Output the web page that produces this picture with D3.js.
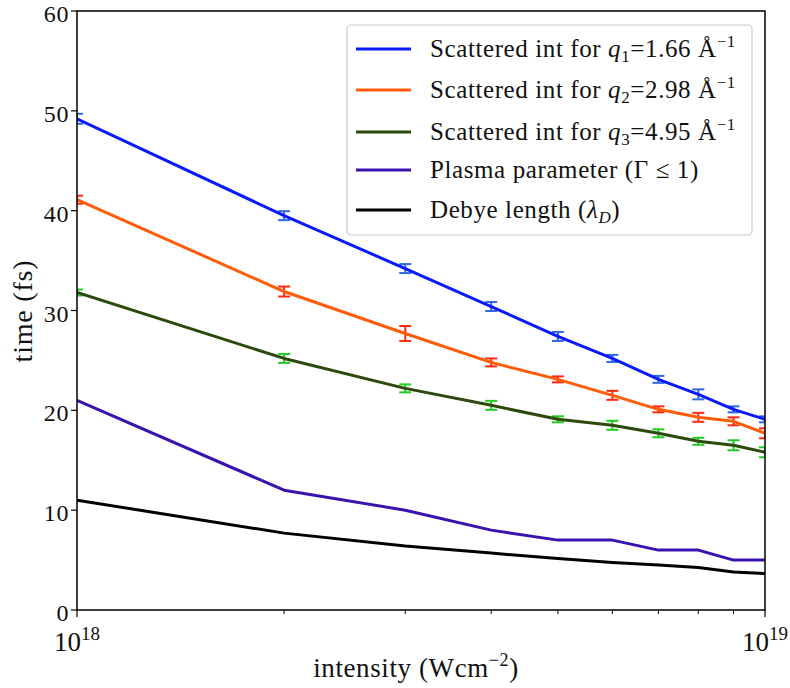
<!DOCTYPE html>
<html><head><meta charset="utf-8">
<script src="https://cdn.jsdelivr.net/npm/d3@7"></script>
<style>body{margin:0;background:#fff}svg text{font-family:"Liberation Serif","DejaVu Serif",serif;fill:#111}</style>
</head><body><svg id="c" width="790" height="688"></svg>
<script>
const intensity = [1e18,2e18,3e18,4e18,5e18,6e18,7e18,8e18,9e18,1e19];
const q1 = [49.2,39.5,34.2,30.4,27.4,25.2,23.1,21.6,20.1,19.1];
const q1Err = [0.5,0.45,0.45,0.45,0.45,0.35,0.35,0.5,0.3,0.3];
const q2 = [41.1,31.9,27.7,24.8,23.1,21.5,20.1,19.3,18.9,17.7];
const q2Err = [0.4,0.5,0.75,0.4,0.3,0.45,0.3,0.45,0.4,0.5];
const q3 = [31.8,25.2,22.2,20.5,19.1,18.5,17.7,16.9,16.5,15.8];
const q3Err = [0.3,0.45,0.4,0.45,0.3,0.45,0.4,0.35,0.5,0.5];
const plasma = [21,12,10,8,7,7,6,6,5,5];
const debye = [11.0,7.7,6.4,5.7,5.15,4.75,4.5,4.25,3.8,3.65];
const yTicks = [0,10,20,30,40,50,60];

const svg = d3.select("#c");
const L=77,R=765,T=11,B=610;
const x = d3.scaleLog().domain([1e18,1e19]).range([L,R]);
const y = d3.scaleLinear().domain([0,60]).range([B,T]);

svg.append("clipPath").attr("id","clip").append("rect").attr("x",L).attr("y",T).attr("width",R-L).attr("height",B-T);
const g = svg.append("g").attr("clip-path","url(#clip)");

const series = [
 {v:q1,e:q1Err,c:"#0a1aff",ec:"#2f6ae6"},
 {v:q2,e:q2Err,c:"#ff5c0a",ec:"#ff2a14"},
 {v:q3,e:q3Err,c:"#2c4a0c",ec:"#22cc22"},
 {v:plasma,c:"#3a12b0"},
 {v:debye,c:"#000000"}
];
const line = d3.line().x((d,i)=>x(intensity[i])).y(d=>y(d));
series.forEach(s=>{
  if(!s.e) return;
  s.v.forEach((v,i)=>{
    const cx=x(intensity[i]), y1=y(v+s.e[i]), y2=y(v-s.e[i]);
    g.append("line").attr("x1",cx).attr("x2",cx).attr("y1",y1).attr("y2",y2).attr("stroke",s.ec).attr("stroke-width",2);
    [y1,y2].forEach(yy=>g.append("line").attr("x1",cx-6).attr("x2",cx+6).attr("y1",yy).attr("y2",yy).attr("stroke",s.ec).attr("stroke-width",2));
  });
});
series.forEach(s=>{
  g.append("path").attr("d",line(s.v)).attr("fill","none").attr("stroke",s.c).attr("stroke-width",3).attr("stroke-linejoin","round");
});

svg.append("rect").attr("x",L).attr("y",T).attr("width",R-L).attr("height",B-T).attr("fill","none").attr("stroke","#000").attr("stroke-width",1.5);

yTicks.forEach(t=>{
  svg.append("line").attr("x1",L-6).attr("x2",L).attr("y1",y(t)).attr("y2",y(t)).attr("stroke","#000").attr("stroke-width",1.2);
  svg.append("text").attr("x",L-8).attr("y",y(t)+11).attr("text-anchor","end").attr("font-size",24).attr("letter-spacing",0.6).text(t);
});
const minor = [2,3,4,5,6,7,8,9].map(k=>k*1e18);
minor.forEach(t=>svg.append("line").attr("x1",x(t)).attr("x2",x(t)).attr("y1",B).attr("y2",B+4).attr("stroke","#000").attr("stroke-width",1));
[[1e18,"18"],[1e19,"19"]].forEach(([t,e])=>{
  svg.append("line").attr("x1",x(t)).attr("x2",x(t)).attr("y1",B).attr("y2",B+7).attr("stroke","#000").attr("stroke-width",1.2);
  const tx=svg.append("text").attr("x",x(t)).attr("y",651).attr("text-anchor","middle").attr("font-size",27);
  tx.append("tspan").text("10");
  tx.append("tspan").attr("dy",-11).attr("font-size",19).text(e);
});

const xl = svg.append("text").attr("x",416).attr("y",677).attr("text-anchor","middle").attr("font-size",27).attr("letter-spacing",0.6);
xl.append("tspan").text("intensity (Wcm");
xl.append("tspan").attr("dy",-11).attr("font-size",18).text("−2");
xl.append("tspan").attr("dy",11).text(")");
svg.append("text").attr("transform","translate(32,311) rotate(-90)").attr("text-anchor","middle").attr("font-size",28).attr("letter-spacing",0.8).text("time (fs)");

svg.append("rect").attr("x",347).attr("y",25).attr("width",405).attr("height",210).attr("rx",4).attr("fill","#fff").attr("fill-opacity",0.85).attr("stroke","#ccc").attr("stroke-width",1.2);
const rows = [49,90,132,170,210];
const labels = [
 [["Scattered int for ",{}],["q",{fs:"italic"}],["1",{sub:true}],["=1.66 Å",{}],["−1",{sup:true}]],
 [["Scattered int for ",{}],["q",{fs:"italic"}],["2",{sub:true}],["=2.98 Å",{}],["−1",{sup:true}]],
 [["Scattered int for ",{}],["q",{fs:"italic"}],["3",{sub:true}],["=4.95 Å",{}],["−1",{sup:true}]],
 [["Plasma parameter (Γ ≤ 1)",{}]],
 [["Debye length (",{}],["λ",{fs:"italic"}],["D",{sub:true,fs:"italic"}],[")",{}]]
];
rows.forEach((ry,i)=>{
  svg.append("line").attr("x1",356).attr("x2",411).attr("y1",ry).attr("y2",ry).attr("stroke",series[i].c).attr("stroke-width",3);
  const t=svg.append("text").attr("x",430).attr("y",ry+8).attr("font-size",25).attr("letter-spacing",0.6);
  let off=0;
  labels[i].forEach(([s,o])=>{
    const sp=t.append("tspan").text(s);
    let d=0;
    if(o.sub) d=5; if(o.sup) d=-10;
    sp.attr("dy",d-off); off=d;
    if(o.sub||o.sup) sp.attr("font-size",17);
    if(o.fs) sp.attr("font-style",o.fs);
  });
});
</script></body></html>
